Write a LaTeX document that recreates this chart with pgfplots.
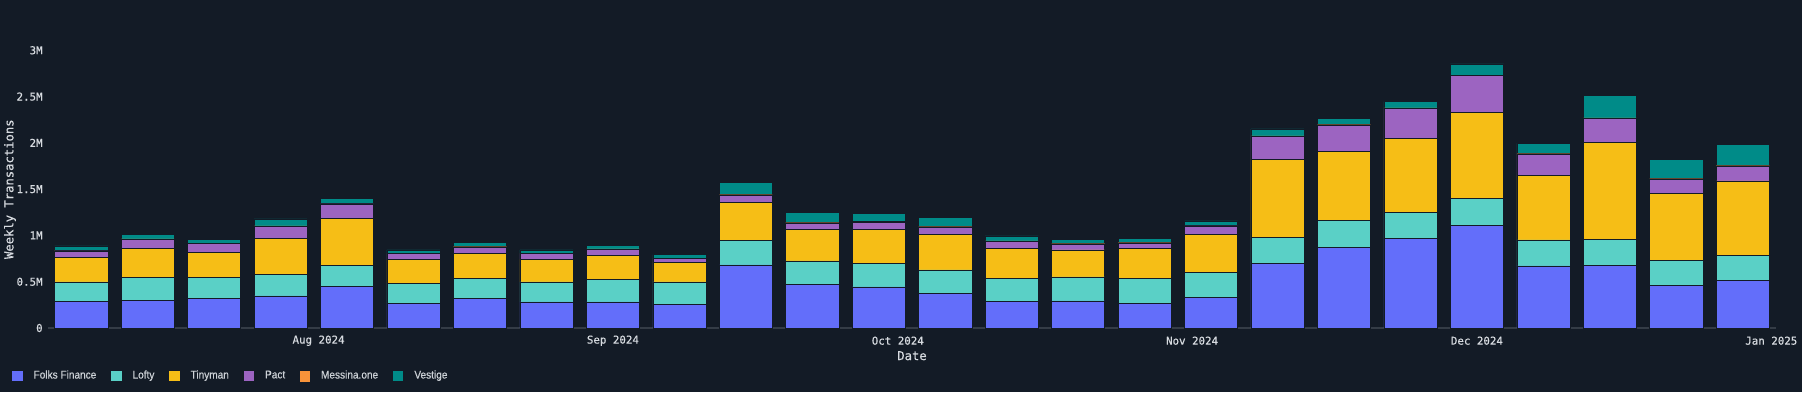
\documentclass[border=0pt]{standalone}
\usepackage{fontspec}
\setmainfont{Liberation Sans}
\setmonofont{DejaVu Sans Mono}[FakeBold=0.5]
\newfontfamily\legfont{Liberation Sans}[FakeBold=0.6, FakeStretch=0.9]
\usepackage{pgfplots}
\usepackage{pgfplotstable}
\pgfplotsset{compat=1.18}
\definecolor{bg}{RGB}{19,27,38}
\definecolor{txt}{RGB}{215,219,224}
\definecolor{axisc}{RGB}{52,60,70}
\definecolor{folks}{RGB}{99,110,250}
\definecolor{lofty}{RGB}{90,208,198}
\definecolor{tinyman}{RGB}{246,190,22}
\definecolor{pact}{RGB}{156,100,193}
\definecolor{messina}{RGB}{247,147,58}
\definecolor{vestige}{RGB}{0,139,136}
\pgfplotstableread{
idx folks lofty tinyman pact messina vestige
0 0.288 0.209 0.263 0.072 0.005 0.050
1 0.299 0.248 0.317 0.094 0.005 0.052
2 0.320 0.227 0.270 0.094 0.004 0.043
3 0.346 0.234 0.392 0.126 0.004 0.076
4 0.447 0.230 0.511 0.152 0.010 0.054
5 0.266 0.220 0.252 0.065 0.004 0.036
6 0.320 0.217 0.270 0.068 0.004 0.043
7 0.281 0.216 0.245 0.061 0.004 0.036
8 0.281 0.241 0.263 0.065 0.004 0.039
9 0.256 0.241 0.212 0.043 0.004 0.036
10 0.681 0.262 0.415 0.075 0.007 0.137
11 0.472 0.252 0.338 0.068 0.007 0.116
12 0.443 0.252 0.367 0.083 0.010 0.084
13 0.371 0.256 0.388 0.076 0.004 0.104
14 0.284 0.253 0.324 0.075 0.004 0.054
15 0.292 0.259 0.292 0.064 0.004 0.043
16 0.270 0.270 0.317 0.061 0.004 0.047
17 0.331 0.270 0.407 0.094 0.007 0.047
18 0.702 0.281 0.835 0.253 0.004 0.075
19 0.875 0.285 0.745 0.281 0.010 0.065
20 0.969 0.284 0.796 0.324 0.004 0.068
21 1.109 0.288 0.929 0.403 0.004 0.119
22 0.670 0.281 0.698 0.230 0.004 0.112
23 0.677 0.277 1.048 0.263 0.004 0.240
24 0.461 0.270 0.724 0.154 0.004 0.209
25 0.511 0.270 0.807 0.162 0.004 0.226
}\datatable
\begin{document}
\begin{tikzpicture}
\fill[bg] (0,0) rectangle (901pt,196pt);
\useasboundingbox (0,0) rectangle (901pt,196pt);
\begin{axis}[
  at={(24pt,32pt)}, anchor=south west,
  scale only axis, width=864pt, height=145.8pt,
  ybar stacked, bar width=0.8,
  xmin=-0.5, xmax=25.5, ymin=0, ymax=3.15,
  xtick={3.571,8,12.286,16.714,21,25.429},
  xticklabels={Aug 2024,Sep 2024,Oct 2024,Nov 2024,Dec 2024,Jan 2025},
  ytick={0,0.5,1,1.5,2,2.5,3},
  yticklabels={0,0.5M,1M,1.5M,2M,2.5M,3M},
  major tick length=0,
  axis lines*=left, axis line style={-},
  x axis line style={draw=axisc, line width=0.7pt},
  y axis line style={draw=none},
  tick label style={font=\ttfamily\fontsize{5.4pt}{6pt}\selectfont, text=txt},
  yticklabel style={inner sep=0pt, anchor=east, xshift=-2.5pt},
  xticklabel style={inner sep=0pt, anchor=center, yshift=-6.35pt},
  xlabel={Date}, ylabel={Weekly Transactions},
  label style={font=\ttfamily\fontsize{6.1pt}{7pt}\selectfont, text=txt},
  xlabel style={at={(axis description cs:0.5,0)}, anchor=center, yshift=-13.85pt},
  ylabel style={at={(axis description cs:-0.022,0.476)}, anchor=center},
  legend columns=6,
  legend style={draw=none, fill=none, at={(axis description cs:0,0)}, anchor=west,
    xshift=-18.5pt, yshift=-24pt, inner sep=0pt,
    font=\legfont\fontsize{5.6pt}{6.5pt}\selectfont, text={rgb,255:red,205;green,210;blue,215},
    nodes={inner sep=0pt},
    /tikz/every odd column/.append style={column sep=5.2pt},
    /tikz/every even column/.append style={column sep=7pt}},
  legend cell align=left,
  legend image code/.code={\fill[#1] (0pt,-2.8pt) rectangle (5.6pt,2.8pt);},
]
\addplot[fill=folks, draw=bg, line width=0.3pt] table[x=idx,y=folks]{\datatable};
\addlegendentry{Folks Finance}
\addplot[fill=lofty, draw=bg, line width=0.3pt] table[x=idx,y=lofty]{\datatable};
\addlegendentry{Lofty}
\addplot[fill=tinyman, draw=bg, line width=0.3pt] table[x=idx,y=tinyman]{\datatable};
\addlegendentry{Tinyman}
\addplot[fill=pact, draw=bg, line width=0.3pt] table[x=idx,y=pact]{\datatable};
\addlegendentry{Pact}
\addplot[fill=messina, draw=bg, line width=0.1pt] table[x=idx,y=messina]{\datatable};
\addlegendentry{Messina.one}
\addplot[fill=vestige, draw=bg, line width=0.3pt] table[x=idx,y=vestige]{\datatable};
\addlegendentry{Vestige}
\end{axis}
\end{tikzpicture}
\end{document}
